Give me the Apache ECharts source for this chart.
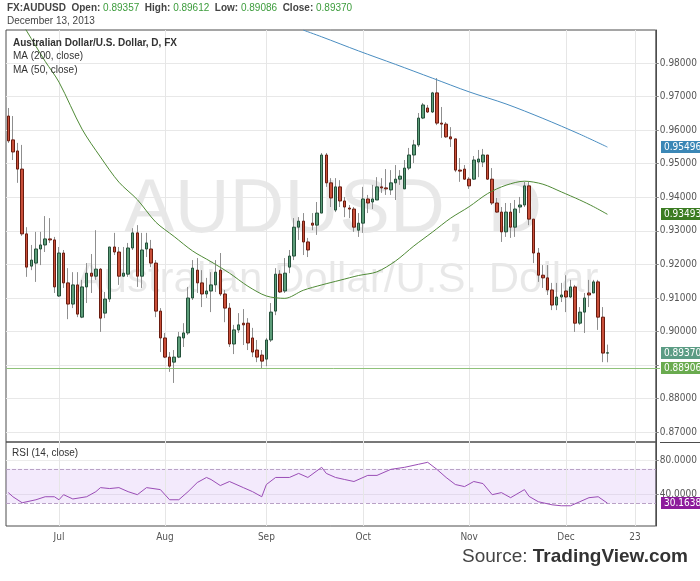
<!DOCTYPE html>
<html><head><meta charset="utf-8">
<script src="https://cdn.jsdelivr.net/npm/echarts@6/dist/echarts.min.js"></script>
<style>html,body{margin:0;padding:0;background:#fff}#c{width:700px;height:581px}</style>
</head><body><div id="c"></div>
<script>
// ---------------- data ----------------
const symbol = 'FX:AUDUSD';
const dateText = 'December 13, 2013';
const opens = [
0.9642,0.9571,0.9538,0.9484,0.9291,0.9195,0.9204,0.9246,0.9258,0.9276,
0.9273,0.9106,0.9234,0.9145,0.9082,0.9139,0.9043,0.9133,0.9174,0.9165,
0.9186,0.9055,0.9097,0.9252,0.9237,0.9165,0.9171,0.9249,0.9294,0.9165,
0.9246,0.9246,0.9204,0.9061,0.8981,0.8924,0.8909,0.8924,0.8981,0.8996,
0.9100,0.9183,0.9145,0.9112,0.9121,0.9139,0.9183,0.9112,0.9070,0.8963,
0.9005,0.9025,0.9025,0.8981,0.8945,0.8930,0.8918,0.8975,0.9061,0.9171,
0.9121,0.9192,0.9225,0.9311,0.9329,0.9267,0.9323,0.9317,0.9353,0.9526,
0.9443,0.9362,0.9431,0.9389,0.9368,0.9365,0.9302,0.9323,0.9395,0.9386,
0.9392,0.9431,0.9428,0.9422,0.9443,0.9454,0.9425,0.9487,0.9526,0.9556,
0.9636,0.9666,0.9654,0.9711,0.9621,0.9618,0.9580,0.9574,0.9481,0.9484,
0.9454,0.9454,0.9505,0.9505,0.9526,0.9454,0.9383,0.9356,0.9297,0.9356,
0.9311,0.9371,0.9377,0.9434,0.9335,0.9234,0.9168,0.9160,0.9124,0.9079,
0.9103,0.9121,0.9103,0.9133,0.9025,0.9058,0.9115,0.9115,0.9148,0.9043,
0.89357];
const highs = [
0.9666,0.9642,0.9562,0.9556,0.9311,0.9258,0.9297,0.9297,0.9344,0.9338,
0.9282,0.9252,0.9243,0.9189,0.9177,0.9177,0.9154,0.9204,0.9231,0.9302,
0.9189,0.9118,0.9252,0.9294,0.9252,0.9252,0.9264,0.9308,0.9317,0.9294,
0.9294,0.9273,0.9213,0.9070,0.8996,0.8939,0.8945,0.8999,0.9025,0.9133,
0.9213,0.9219,0.9183,0.9160,0.9177,0.9213,0.9234,0.9124,0.9085,0.9020,
0.9055,0.9067,0.9040,0.9011,0.8975,0.8945,0.8981,0.9085,0.9189,0.9183,
0.9219,0.9243,0.9338,0.9341,0.9353,0.9279,0.9353,0.9386,0.9532,0.9532,
0.9457,0.9457,0.9451,0.9401,0.9377,0.9371,0.9353,0.9431,0.9407,0.9437,
0.9460,0.9457,0.9484,0.9481,0.9496,0.9481,0.9511,0.9547,0.9571,0.9651,
0.9681,0.9675,0.9714,0.9755,0.9669,0.9624,0.9609,0.9574,0.9517,0.9496,
0.9460,0.9523,0.9541,0.9544,0.9526,0.9487,0.9398,0.9371,0.9383,0.9383,
0.9392,0.9401,0.9446,0.9446,0.9335,0.9249,0.9198,0.9198,0.9145,0.9145,
0.9145,0.9168,0.9154,0.9139,0.9073,0.9115,0.9154,0.9154,0.9154,0.9073,
0.89612];
const lows = [
0.9562,0.9511,0.9443,0.9285,0.9163,0.9183,0.9148,0.9198,0.9237,0.9264,
0.9115,0.9103,0.9130,0.9037,0.9070,0.9043,0.9040,0.9085,0.9115,0.9154,
0.8999,0.9040,0.9088,0.9228,0.9139,0.9163,0.9163,0.9243,0.9133,0.9130,
0.9222,0.9192,0.9043,0.8939,0.8921,0.8880,0.8847,0.8921,0.8954,0.8990,
0.9094,0.9115,0.9073,0.9100,0.9058,0.9118,0.9106,0.9028,0.8954,0.8933,
0.8996,0.8960,0.8945,0.8924,0.8909,0.88906,0.8897,0.8969,0.9049,0.9115,
0.9115,0.9174,0.9213,0.9273,0.9228,0.9222,0.9302,0.9288,0.9353,0.9431,
0.9371,0.9356,0.9371,0.9341,0.9338,0.9297,0.9282,0.9294,0.9353,0.9365,
0.9392,0.9413,0.9407,0.9407,0.9392,0.9437,0.9425,0.9481,0.9502,0.9550,
0.9633,0.9651,0.9651,0.9615,0.9577,0.9577,0.9550,0.9475,0.9446,0.9452,
0.9425,0.9452,0.9460,0.9490,0.9452,0.9377,0.9354,0.9267,0.9282,0.9279,
0.9282,0.9353,0.9371,0.9317,0.9204,0.9148,0.9130,0.9109,0.9064,0.9064,
0.9088,0.9058,0.9100,0.8999,0.9020,0.8996,0.9073,0.9115,0.9005,0.8909,
0.89086];
const closes = [
0.9568,0.9535,0.9484,0.9291,0.9192,0.9213,0.9246,0.9258,0.9276,0.9273,
0.9133,0.9234,0.9145,0.9082,0.9139,0.9052,0.9133,0.9174,0.9165,0.9186,
0.9040,0.9097,0.9252,0.9237,0.9165,0.9174,0.9249,0.9294,0.9165,0.9243,
0.9264,0.9204,0.9061,0.8981,0.8924,0.8897,0.8924,0.8984,0.8996,0.9100,
0.9189,0.9145,0.9112,0.9121,0.9139,0.9177,0.9112,0.9070,0.8963,0.9005,
0.9020,0.9020,0.8966,0.8939,0.8924,0.8912,0.8975,0.9058,0.9171,0.9118,
0.9174,0.9225,0.9311,0.9329,0.9267,0.9243,0.9317,0.9353,0.9526,0.9443,
0.9398,0.9431,0.9389,0.9371,0.9365,0.9311,0.9323,0.9395,0.9383,0.9395,
0.9431,0.9428,0.9425,0.9443,0.9454,0.9463,0.9487,0.9526,0.9556,0.9636,
0.9675,0.9654,0.9711,0.9621,0.9618,0.9580,0.9574,0.9481,0.9478,0.9454,
0.9434,0.9511,0.9514,0.9526,0.9454,0.9383,0.9356,0.9297,0.9356,0.9311,
0.9365,0.9377,0.9434,0.9335,0.9234,0.9168,0.9160,0.9124,0.9079,0.9103,
0.9109,0.9103,0.9133,0.9025,0.9058,0.9100,0.9109,0.9148,0.9043,0.8936,
0.89370];
// moving averages, read at sampled bars (bar index -> value)
const ma50At  = [2,4,8,11,16,20,24,28,32,36,40,44,48,52,56,60,64,68,72,76,80,84,88,92,96,100,104,108,112,116,120,124,127,130];
const ma50    = [0.9941,0.9895,0.9805,0.9743,0.9603,0.9520,0.9445,0.9393,0.9326,0.9283,0.9240,0.9208,0.9174,0.9135,0.9106,0.9099,0.9123,0.9139,0.9153,0.9167,0.9178,0.9210,0.9255,0.9296,0.9338,0.9372,0.9411,0.9436,0.9448,0.9439,0.9416,0.9392,0.9372,0.93493];
const ma200At = [64,68,76,84,92,100,108,116,124,130];
const ma200   = [0.9898,0.9878,0.9836,0.9796,0.9755,0.9714,0.9678,0.9635,0.9588,0.95496];
const supportLevel = 0.88906;
// RSI (14), read at sampled bars
const rsiAt = [0,1,3,6,8,10,11,12,14,17,19,20,22,24,26,28,30,33,35,37,39,41,43,44,46,48,51,53,55,56,58,61,63,65,68,69,71,73,75,78,80,83,86,89,91,93,95,97,99,101,103,105,107,109,112,113,115,118,120,122,124,126,128,130];
const rsi   = [42.4,37.6,30.6,34.1,37.6,37.6,34.1,40,35,37.6,43.5,48.2,47.1,48.2,43.5,40,48.2,45.9,34.1,34.1,43.5,54.1,60,57.6,50.6,55.3,48.2,43.5,37.6,51.8,60,60,64.7,60,71.8,64.7,60,57.6,55.3,62.4,62.4,69.4,71.8,75.3,77.6,69.4,60,51.8,49.4,55.3,52.9,40,42.4,36.5,45.9,38,31.8,28.2,27.1,27.1,31.8,36.5,37.6,30.1638];
const priceTicks = [0.87,0.88,0.89,0.90,0.91,0.92,0.93,0.94,0.95,0.96,0.97,0.98];
const rsiTicks = [40,80];
const monthTickDates = ['2013-07-01','2013-08-01','2013-09-02','2013-10-01','2013-11-01','2013-12-02','2013-12-23'];
const monthTickLabels = ['Jul','Aug','Sep','Oct','Nov','Dec','23'];

// ---------------- build ----------------
const categories = [];
(function(){ const d = new Date(Date.UTC(2013,5,14));
  while (categories.length < 141) { const w = d.getUTCDay();
    if (w !== 0 && w !== 6) categories.push(d.toISOString().slice(0,10));
    d.setUTCDate(d.getUTCDate()+1); } })();
const N = opens.length;
const full = (at, vals) => { const a = new Array(N).fill(null); at.forEach((i,k)=>a[i]=vals[k]); return a; };
const wickData = opens.map((o,i)=>[o, closes[i], lows[i], highs[i]]);
const bodyData = opens.map((o,i)=>[o, closes[i], Math.min(o,closes[i]), Math.max(o,closes[i])]);
const labelMap = {}; monthTickDates.forEach((d,i)=>labelMap[d]=monthTickLabels[i]);
// the price label lying under the two stacked tags (close / support) is covered in the reference
const priceLabelTicks = priceTicks.filter(v => !(v > supportLevel && v < closes[N-1]));
const FN = "'Liberation Sans Narrow','DejaVu Sans Condensed','Liberation Sans',sans-serif";
const FS = "'Liberation Sans',Arial,sans-serif";
const vLines = monthTickDates.map(d=>({xAxis:d}));

const baseGraphic = [
  {type:'text', z:0, style:{text:'AUDUSD, D', x:333, y:211, textAlign:'center', textVerticalAlign:'middle',
    fontSize:76, fontFamily:FS, fill:'rgba(0,0,0,0.09)'}},
  {type:'text', z:0, style:{text:'Australian Dollar/U.S. Dollar', x:337, y:280, textAlign:'center', textVerticalAlign:'middle',
    fontSize:42, fontFamily:FS, fill:'rgba(0,0,0,0.09)'}},
  {type:'text', z:50, style:{x:7, y:3, fontFamily:FS, fontSize:10,
    text:'{b|'+symbol+'}  {b|Open:} {g|'+opens[N-1].toFixed(5)+'}  {b|High:} {g|'+highs[N-1].toFixed(5)+'}  {b|Low:} {g|'+lows[N-1].toFixed(5)+'}  {b|Close:} {g|'+closes[N-1].toFixed(5)+'}',
    rich:{b:{fontWeight:'bold', fill:'#444', fontSize:10, fontFamily:FS}, g:{fill:'#3c9c3c', fontSize:10, fontFamily:FS}}}},
  {type:'text', z:50, style:{x:7, y:16, text:dateText, fontSize:10, fontFamily:FS, fill:'#444'}},
  {type:'text', z:50, style:{x:13, y:38, text:'Australian Dollar/U.S. Dollar, D, FX', fontSize:10, fontWeight:'bold', fontFamily:FS, fill:'#333'}},
  {type:'text', z:50, style:{x:13, y:51, text:'MA (200, close)', fontSize:10, fontFamily:FS, fill:'#333'}},
  {type:'text', z:50, style:{x:13, y:65, text:'MA (50, close)', fontSize:10, fontFamily:FS, fill:'#333'}},
  {type:'text', z:50, style:{x:12, y:448, text:'RSI (14, close)', fontSize:10, fontFamily:FS, fill:'#333'}},
  {type:'line', z:50, shape:{x1:660, y1:442.5, x2:700, y2:442.5}, style:{stroke:'#4d4d4d', lineWidth:1}},
  {type:'text', z:50, style:{x:688, y:557, textAlign:'right', textVerticalAlign:'middle', fontFamily:FS,
    text:'{a|Source: }{b|TradingView.com}',
    rich:{a:{fontSize:19, fill:'#444', fontFamily:FS}, b:{fontSize:19, fontWeight:'bold', fill:'#333', fontFamily:FS}}}}
];

const chart = echarts.init(document.getElementById('c'), null, {renderer:'canvas'});
chart.setOption({
  animation:false,
  backgroundColor:'#fff',
  grid:[
    {left:6, right:40, top:30, bottom:139, show:true, borderColor:'#4d4d4d', borderWidth:1},
    {left:6, right:40, top:442, bottom:55, show:true, borderColor:'#4d4d4d', borderWidth:1}
  ],
  xAxis:[
    {type:'category', gridIndex:0, data:categories, boundaryGap:true,
     axisLine:{show:false}, axisTick:{show:false}, axisLabel:{show:false}, splitLine:{show:false}},
    {type:'category', gridIndex:1, data:categories, boundaryGap:true,
     axisLine:{show:false}, axisTick:{show:false}, splitLine:{show:false},
     axisLabel:{show:true, interval:(i,v)=>labelMap[v]!==undefined, formatter:v=>labelMap[v]||'',
       color:'#555', fontSize:10, fontFamily:FN, margin:6}}
  ],
  yAxis:[
    {type:'value', gridIndex:0, position:'right', min:0.86711, max:0.98983,
     axisLine:{show:true, lineStyle:{color:'#4d4d4d'}},
     axisTick:{show:true, length:3, customValues:priceTicks, lineStyle:{color:'#888'}},
     axisLabel:{show:true, customValues:priceLabelTicks, formatter:v=>v.toFixed(5), color:'#555', fontSize:10, fontFamily:FN, margin:4},
     splitLine:{show:true, lineStyle:{color:'#e8e8e8'}}},
    {type:'value', gridIndex:1, position:'right', min:3.6, max:101.2,
     axisLine:{show:true, lineStyle:{color:'#4d4d4d'}},
     axisTick:{show:true, length:3, customValues:rsiTicks, lineStyle:{color:'#888'}},
     axisLabel:{show:true, customValues:rsiTicks, formatter:v=>v.toFixed(4), color:'#555', fontSize:10, fontFamily:FN, margin:4},
     splitLine:{show:true, lineStyle:{color:'#ececec'}}}
  ],
  graphic: baseGraphic,
  series:[
    {name:'wick', type:'candlestick', xAxisIndex:0, yAxisIndex:0, data:wickData, barWidth:1, z:3,
     itemStyle:{color:'#8f8f8f', color0:'#8f8f8f', borderColor:'#8f8f8f', borderColor0:'#8f8f8f', borderWidth:1},
     markLine:{silent:true, symbol:'none', z:1, label:{show:false}, lineStyle:{color:'#e6e6e6', type:'solid', width:1}, data:vLines}},
    {name:'body', type:'candlestick', xAxisIndex:0, yAxisIndex:0, data:bodyData, barWidth:3, z:4,
     itemStyle:{color:'#5c9d79', color0:'#c94f39', borderColor:'#24503a', borderColor0:'#6a1c10', borderWidth:1}},
    {name:'MA200', type:'line', xAxisIndex:0, yAxisIndex:0, data:full(ma200At, ma200), connectNulls:true, smooth:0.3,
     showSymbol:false, symbol:'none', z:6, lineStyle:{color:'#4a8dc0', width:1}},
    {name:'MA50', type:'line', xAxisIndex:0, yAxisIndex:0, data:full(ma50At, ma50), connectNulls:true, smooth:0.3,
     showSymbol:false, symbol:'none', z:6, lineStyle:{color:'#4f8a36', width:1}},
    {name:'RSI', type:'line', xAxisIndex:1, yAxisIndex:1, data:full(rsiAt, rsi), connectNulls:true,
     showSymbol:false, symbol:'none', z:6, lineStyle:{color:'#9a4db6', width:1},
     markArea:{silent:true, itemStyle:{color:'rgba(185,130,235,0.17)'}, data:[[{yAxis:30},{yAxis:70}]]},
     markLine:{silent:true, symbol:'none', label:{show:false}, lineStyle:{color:'#b9a2c6', type:'dashed', width:1},
       data:[{yAxis:70},{yAxis:30}]}},
    {name:'RSIgrid', type:'line', xAxisIndex:1, yAxisIndex:1, data:[], z:1,
     markLine:{silent:true, symbol:'none', label:{show:false}, lineStyle:{color:'#e6e6e6', type:'solid', width:1}, data:vLines}}
  ]
});

// support line and value tags, placed through the axes' own scales
const tags = [
  {v:ma200[ma200.length-1], axis:0, bg:'#3b87b6', d:5},
  {v:ma50[ma50.length-1],   axis:0, bg:'#3b7c22', d:5},
  {v:supportLevel,          axis:0, bg:'#6aab4f', d:5},
  {v:closes[N-1],           axis:0, bg:'#5b9c84', d:5},
  {v:rsi[rsi.length-1],     axis:1, bg:'#8d1c9c', d:4}
];
const ySup = Math.round(chart.convertToPixel({yAxisIndex:0}, supportLevel)) + 0.5;
const extra = [{type:'line', z:20, shape:{x1:6.5, y1:ySup, x2:660, y2:ySup}, style:{stroke:'#8fc27a', lineWidth:1}}]
  .concat(tags.map(t=>{
    const y = Math.round(chart.convertToPixel({yAxisIndex:t.axis}, t.v));
    return {type:'group', x:660, y:y, zlevel:1, z:60, children:[
      {type:'rect', zlevel:1, z:61, shape:{x:1, y:-6, width:40, height:12}, style:{fill:t.bg}},
      {type:'text', zlevel:1, z:62, style:{x:4, y:0.5, text:t.v.toFixed(t.d), textVerticalAlign:'middle', fill:'#fff', fontSize:10, fontFamily:FN}}
    ]};
  }));
chart.setOption({graphic: baseGraphic.concat(extra)});
</script></body></html>
